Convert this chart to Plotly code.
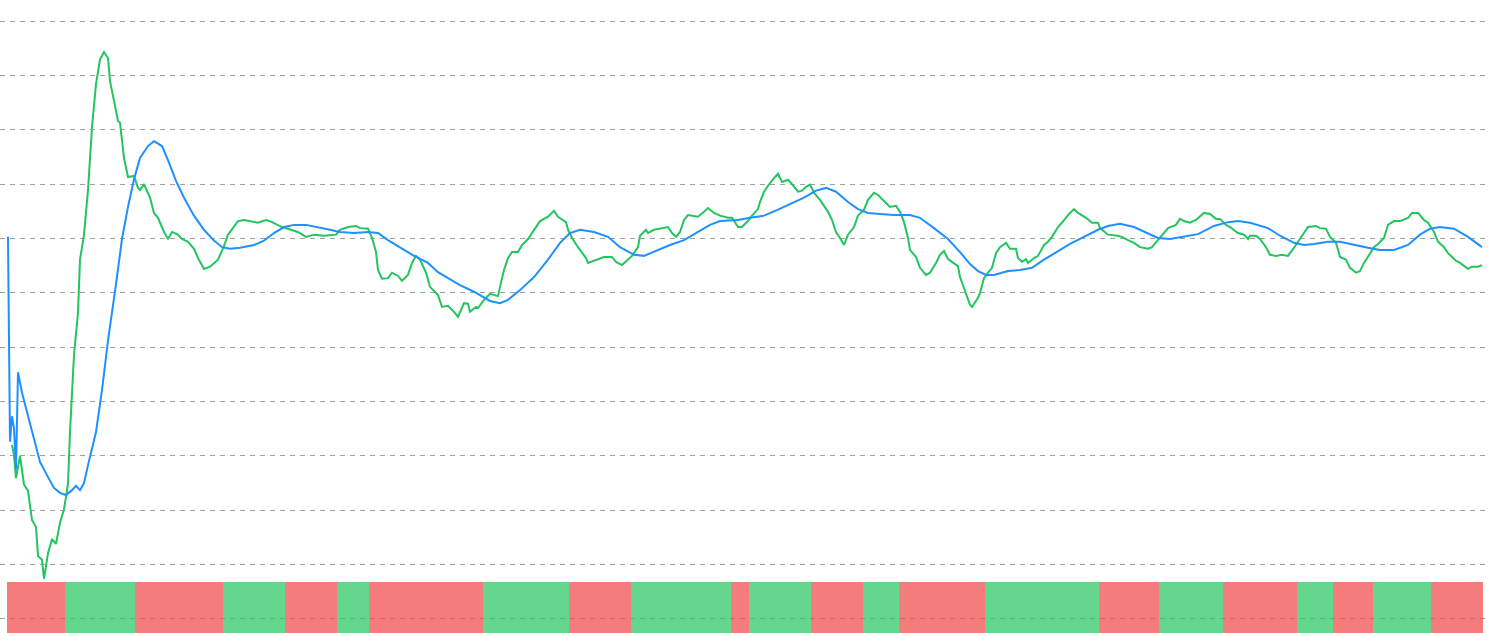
import plotly.graph_objects as go

# ---------------- data ----------------
green_idx = [2, 3, 4, 6, 8, 10, 12, 14, 15, 17, 18, 20, 22, 24, 26, 28, 30, 31, 33, 35, 36, 38, 40, 42, 44, 46, 48, 50, 51, 53,
             55, 56, 58, 60, 63, 65, 66, 68, 71, 73, 75, 78, 80, 82, 85, 87, 90, 93, 95, 98, 101, 105, 108, 110, 115, 118, 125, 129, 132, 137,
             141, 145, 149, 153, 158, 164, 166, 170, 174, 176, 180, 182, 184, 185, 187, 190, 192, 195, 197, 200, 202, 204, 206, 209, 211, 215, 217, 220, 223, 225,
             228, 230, 231, 234, 235, 238, 241, 245, 246, 248, 250, 252, 255, 257, 260, 262, 264, 266, 270, 272, 273, 275, 279, 280, 282, 285, 287, 289, 290, 294,
             298, 302, 304, 307, 310, 312, 315, 316, 319, 320, 323, 326, 330, 332, 334, 336, 338, 340, 345, 348, 350, 353, 356, 360, 362, 365, 367, 370, 372, 375,
             376, 378, 380, 383, 385, 387, 390, 392, 395, 397, 399, 401, 403, 406, 410, 412, 414, 416, 418, 420, 423, 425, 428, 430, 433, 435, 438, 441, 444, 446,
             448, 450, 451, 454, 456, 459, 461, 464, 466, 468, 470, 475, 476, 479, 481, 482, 485, 486, 488, 490, 492, 494, 496, 499, 501, 504, 505, 507, 509, 510,
             513, 515, 518, 520, 522, 525, 527, 530, 533, 535, 539, 542, 545, 546, 550, 555, 557, 560, 563, 566, 570, 572, 575, 578, 580, 584, 586, 588, 591, 594,
             598, 601, 604, 606, 609, 611, 615, 618, 620, 621, 624, 626, 629, 631, 634, 637, 640, 643, 645, 648, 650, 654, 656, 659, 661, 664, 666, 669, 671, 674,
             676, 678, 680, 683, 685, 688, 690, 693, 696, 700, 702, 705, 708, 710, 713, 715, 718, 720, 724, 726, 730, 732, 735, 737]
green_val = [32.0, 30.2, 25.9, 30.0, 24.7, 23.6, 18.2, 16.9, 11.6, 10.9, 7.4, 12.1, 14.7, 13.8, 17.7, 20.2, 24.8, 34.4, 48.6, 56.3, 66.1, 70.7, 78.9, 90.5, 98.4, 102.9, 104.3, 103.2, 99.0, 95.1,
             91.6, 91.3, 84.8, 81.3, 81.5, 79.3, 78.9, 80.0, 77.5, 74.7, 73.8, 71.2, 69.9, 71.2, 70.7, 69.9, 69.4, 68.1, 66.4, 64.4, 64.8, 66.1, 68.6, 70.7, 73.2, 73.4, 72.9, 73.4, 73.0, 72.1,
             71.6, 71.2, 70.3, 70.7, 70.5, 70.7, 71.6, 72.1, 72.3, 71.9, 71.8, 70.1, 67.5, 64.2, 62.6, 62.7, 63.7, 63.1, 62.2, 63.3, 65.5, 66.8, 66.1, 63.7, 61.1, 59.6, 57.4, 57.6, 56.5, 55.6,
             58.1, 58.0, 56.5, 57.4, 57.2, 58.7, 59.8, 59.4, 61.1, 64.2, 66.4, 67.5, 67.5, 68.8, 69.9, 71.0, 72.1, 73.2, 74.0, 74.7, 75.1, 74.0, 73.0, 71.6, 70.1, 68.4, 67.5, 66.4, 65.5, 66.1,
             66.6, 66.6, 65.7, 65.1, 66.1, 66.8, 68.4, 70.5, 71.6, 71.0, 71.6, 71.8, 72.1, 71.0, 70.3, 71.2, 73.4, 74.3, 74.0, 74.9, 75.6, 74.7, 74.2, 73.8, 73.8, 72.1, 72.1, 73.2, 74.2, 75.4,
             76.7, 78.6, 79.7, 81.1, 81.9, 80.4, 80.8, 80.0, 78.6, 78.8, 79.5, 79.9, 78.4, 77.1, 74.9, 73.4, 71.2, 70.1, 68.8, 70.7, 72.1, 74.2, 75.3, 77.1, 78.4, 78.0, 76.9, 75.8, 76.0, 74.9,
             73.0, 70.1, 67.9, 66.6, 64.6, 63.3, 63.7, 65.5, 67.0, 67.7, 66.2, 64.9, 62.9, 60.0, 57.8, 57.4, 59.1, 60.0, 62.7, 63.7, 64.6, 67.3, 68.4, 69.2, 68.1, 68.1, 66.4, 65.7, 66.2, 65.5,
             66.4, 66.8, 68.8, 69.4, 70.3, 72.1, 72.9, 74.3, 75.4, 74.7, 73.8, 72.9, 72.9, 71.9, 70.7, 70.5, 70.3, 69.7, 69.2, 68.4, 68.1, 68.4, 69.7, 71.0, 71.9, 72.5, 73.6, 73.2, 72.9, 73.4,
             74.7, 74.5, 73.6, 73.6, 72.5, 72.1, 71.0, 70.7, 69.9, 70.5, 70.5, 69.9, 68.4, 67.0, 66.8, 67.0, 66.8, 68.3, 69.4, 71.2, 72.1, 72.3, 71.9, 71.8, 70.3, 69.2, 66.6, 66.1, 64.6, 63.7,
             64.0, 65.5, 66.6, 68.4, 69.0, 70.1, 72.5, 73.2, 73.2, 73.8, 74.7, 74.7, 73.4, 72.9, 71.2, 69.4, 68.4, 67.3, 65.9, 65.5, 64.4, 64.8, 64.8, 65.1]

blue_idx = [0, 1, 2, 3, 4, 5, 7, 10, 13, 16, 20, 23, 26, 29, 32, 34, 36, 38, 40, 44, 47, 50, 54, 57, 60, 63, 66, 70, 73, 77,
            80, 84, 88, 93, 98, 103, 107, 111, 116, 123, 128, 133, 138, 143, 149, 155, 161, 166, 173, 180, 185, 190, 196, 203, 210, 215, 220, 226, 233, 241,
            246, 250, 256, 263, 270, 276, 281, 286, 293, 300, 306, 313, 318, 325, 331, 338, 345, 351, 356, 365, 371, 378, 385, 391, 398, 404, 409, 414, 420, 425,
            430, 436, 443, 451, 456, 463, 470, 476, 481, 485, 489, 493, 500, 506, 512, 518, 525, 531, 538, 545, 550, 556, 563, 570, 575, 581, 588, 595, 603, 610,
            615, 621, 630, 636, 643, 648, 653, 660, 666, 673, 680, 686, 693, 700, 706, 711, 716, 723, 730, 737]
blue_val = [70.3, 32.6, 37.3, 35.1, 27.6, 45.4, 41.6, 37.3, 33.1, 28.9, 26.1, 24.1, 23.2, 22.8, 23.7, 24.5, 23.7, 25.0, 28.3, 34.4, 42.1, 51.2, 61.6, 69.9, 75.8, 80.9, 84.8, 87.0, 87.9, 87.0,
            84.4, 80.6, 77.5, 74.2, 71.6, 69.6, 68.4, 68.1, 68.3, 68.8, 69.6, 71.0, 72.1, 72.5, 72.5, 72.1, 71.6, 71.2, 71.0, 71.2, 71.0, 69.7, 68.4, 66.8, 65.5, 63.8, 62.7, 61.4, 60.2, 58.5,
            58.1, 58.7, 60.5, 62.9, 66.1, 69.2, 71.0, 71.6, 71.2, 70.3, 68.4, 67.0, 66.8, 67.9, 68.8, 69.7, 71.2, 72.5, 73.2, 73.4, 73.8, 74.2, 75.3, 76.3, 77.5, 78.8, 79.3, 78.6, 76.7, 75.4,
            74.7, 74.5, 74.3, 74.3, 73.8, 71.9, 69.9, 67.5, 65.3, 64.0, 63.3, 63.3, 64.0, 64.2, 64.6, 66.1, 67.7, 69.0, 70.3, 71.6, 72.3, 72.7, 72.1, 71.0, 70.1, 69.9, 70.3, 70.8, 72.3, 73.0,
            73.2, 72.9, 71.9, 70.5, 69.2, 68.8, 69.0, 69.4, 69.4, 68.8, 68.3, 67.9, 67.9, 68.8, 70.7, 71.8, 72.1, 71.8, 70.3, 68.4]

# regime strip: start index of each regime and whether it is bullish (1) or bearish (0)
regime_start = [0, 29, 64, 108, 139, 165, 181, 238, 281, 312, 362, 371, 402, 428, 446, 489, 546, 576, 608, 645, 663, 683, 712]
regime_bull = [0, 1, 0, 1, 0, 1, 0, 1, 0, 1, 0, 1, 0, 1, 0, 1, 0, 1, 0, 1, 0, 1, 0]
n_points = 738

grid_ticks = list(range(0, 120, 10))

# ---------------- styling ----------------
GREEN = "#22c55e"
BLUE = "#1e90ff"
BAR_RED = "rgba(239,68,68,0.7)"
BAR_GREEN = "rgba(34,197,94,0.7)"
strip_top = 6.8
strip_base = -10

# expand regimes to one bar per index
bar_x = list(range(n_points))
bar_colors = []
bounds = regime_start + [n_points]
for k in range(len(regime_start)):
    col = BAR_GREEN if regime_bull[k] else BAR_RED
    bar_colors += [col] * (bounds[k + 1] - bounds[k])

fig = go.Figure()
fig.add_trace(go.Bar(
    x=bar_x, y=[strip_top - strip_base] * n_points, base=[strip_base] * n_points,
    marker=dict(color=bar_colors, line=dict(width=0)), width=1.0,
    hoverinfo="skip",
))
fig.add_trace(go.Scatter(x=green_idx, y=green_val, mode="lines",
                         line=dict(color=GREEN, width=2), hoverinfo="skip"))
fig.add_trace(go.Scatter(x=blue_idx, y=blue_val, mode="lines",
                         line=dict(color=BLUE, width=2), hoverinfo="skip"))

fig.update_layout(
    width=1490, height=633,
    margin=dict(l=0, r=0, t=0, b=0),
    paper_bgcolor="white", plot_bgcolor="white",
    showlegend=False, bargap=0,
    xaxis=dict(range=[-4, 741], visible=False),
    yaxis=dict(range=[-2.58, 113.87], tickmode="array", tickvals=grid_ticks,
               showticklabels=False, ticks="", zeroline=False, showline=False,
               showgrid=True, gridcolor="#a0a0a0", gridwidth=1, griddash="5px,5px"),
)

fig.write_html("out.html", config={"displayModeBar": False},
               post_script="document.body.style.margin='0';document.body.style.overflow='hidden';")
